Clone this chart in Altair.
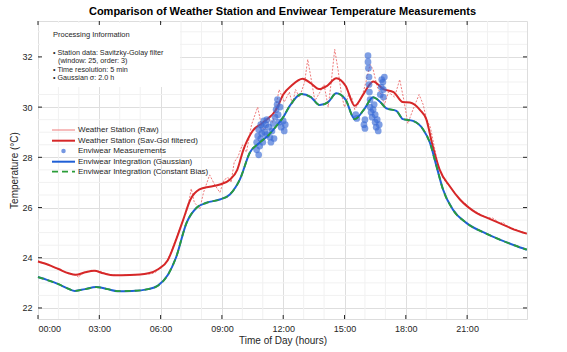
import altair as alt
import pandas as pd

# ---------------- data ----------------
raw_h = [0, 0.25, 0.5, 0.75, 1.0, 1.25, 1.5, 1.75, 1.9, 2.0, 2.1, 2.25, 2.4, 2.5, 2.6, 2.7, 2.8, 2.9, 3.0,
         3.25, 3.5, 3.75, 4.0, 4.5, 5.0, 5.25, 5.5, 5.75, 6.0, 6.25, 6.5, 6.75, 7.0, 7.25, 7.4, 7.5, 7.65,
         7.92, 8.1, 8.4, 8.65, 8.9, 9.1, 9.3, 9.45, 9.6, 9.8, 10.0, 10.2, 10.45, 10.75, 10.95, 11.1, 11.3,
         11.5, 11.8, 12.05, 12.3, 12.45, 12.6, 12.8, 13.05, 13.2, 13.35, 13.55, 13.8, 14.0, 14.2, 14.35,
         14.52, 14.7, 14.85, 15.0, 15.2, 15.35, 15.5, 15.65, 15.85, 16.05, 16.25, 16.4, 16.6, 16.8, 16.95,
         17.15, 17.45, 17.7, 17.9, 18.1, 18.35, 18.65, 18.85, 19.0, 19.2, 19.4, 19.6, 19.8, 20.0, 20.25,
         20.5, 20.75, 21.0, 21.25, 21.5, 21.75, 22.0, 22.25, 22.4, 22.6, 22.75, 22.9, 23.1, 23.35, 23.6, 23.92]
raw_t = [23.88, 23.80, 23.74, 23.62, 23.56, 23.47, 23.36, 23.33, 23.28, 23.22, 23.35, 23.38, 23.47, 23.44,
         23.50, 23.46, 23.50, 23.45, 23.48, 23.38, 23.33, 23.31, 23.29, 23.32, 23.33, 23.36, 23.35, 23.42,
         23.60, 23.78, 24.20, 24.75, 25.30, 25.80, 26.30, 26.75, 26.20, 25.95, 26.60, 27.30, 26.90, 26.60,
         27.10, 27.20, 27.00, 27.80, 28.05, 28.50, 28.20, 29.30, 30.00, 29.20, 29.10, 29.50, 29.40, 30.70,
         30.20, 30.60, 30.10, 30.70, 30.40, 31.00, 31.90, 31.20, 30.25, 30.60, 30.90, 30.00, 31.00, 32.30,
         31.40, 30.50, 30.00, 30.50, 30.40, 29.90, 30.10, 30.40, 31.00, 31.70, 31.50, 30.80, 30.50, 30.10,
         30.60, 30.40, 31.10, 30.30, 29.35, 29.90, 30.50, 30.10, 29.55, 29.20, 28.40, 27.60, 27.20, 26.95,
         26.75, 26.45, 26.25, 26.10, 25.90, 25.80, 25.68, 25.60, 25.58, 25.50, 25.35, 25.42, 25.30, 25.20,
         25.14, 25.06, 24.95]

sg_h = [0, 0.5, 1, 1.5, 1.85, 2.3, 2.75, 3.2, 3.7, 4.5, 5.4, 5.9, 6.35, 6.75, 7.1, 7.45, 7.9, 8.4, 8.9,
        9.4, 9.75, 10.05, 10.5, 11.0, 11.67, 12.0, 12.4, 12.95, 13.35, 13.75, 14.15, 14.6, 15.05, 15.5,
        15.95, 16.4, 16.9, 17.4, 17.85, 18.2, 18.7, 19.0, 19.3, 19.65, 20.15, 20.65, 21.45, 22.1, 22.75,
        23.3, 23.92]
sg_t = [23.85, 23.72, 23.55, 23.38, 23.32, 23.42, 23.48, 23.38, 23.30, 23.31, 23.38, 23.55, 23.90, 24.70,
        25.50, 26.30, 26.72, 26.83, 26.92, 27.12, 27.50, 28.30, 29.05, 29.38, 29.92, 30.50, 30.85, 31.13,
        30.95, 30.72, 30.85, 31.15, 30.85, 30.05, 30.55, 31.02, 30.72, 30.60, 30.20, 30.18, 29.88, 29.52,
        28.50, 27.52, 26.85, 26.32, 25.79, 25.55, 25.32, 25.12, 24.96]

gauss_h = [0, 0.5, 1.0, 1.5, 1.8, 2.3, 2.85, 3.4, 3.9, 4.6, 5.4, 5.87, 6.36, 6.75, 7.27, 7.76, 8.25, 8.9,
           9.39, 9.88, 10.37, 10.86, 11.3, 11.67, 12.0, 12.32, 12.9, 13.35, 13.79, 14.2, 14.6, 15.05, 15.5,
           15.95, 16.4, 16.75, 17.05, 17.54, 17.86, 18.35, 18.84, 19.17, 19.5, 19.82, 20.3, 20.96, 21.94,
           22.6, 23.3, 23.92]
gauss_t = [23.23, 23.10, 22.95, 22.76, 22.68, 22.75, 22.83, 22.75, 22.67, 22.68, 22.75, 22.89, 23.32, 24.00,
           25.39, 25.99, 26.19, 26.32, 26.52, 27.12, 28.19, 28.59, 28.90, 29.25, 29.60, 30.05, 30.52, 30.40,
           30.08, 30.20, 30.55, 30.30, 29.52, 29.90, 30.39, 30.20, 29.95, 29.85, 29.52, 29.45, 29.12, 28.60,
           27.65, 26.72, 25.92, 25.39, 24.96, 24.72, 24.50, 24.32]

bias_h = gauss_h
bias_t = [23.23, 23.10, 22.95, 22.76, 22.68, 22.75, 22.83, 22.75, 22.67, 22.68, 22.75, 22.89, 23.32, 24.00,
          25.39, 25.99, 26.19, 26.32, 26.52, 27.12, 28.19, 28.59, 28.90, 29.25, 29.60, 30.05, 30.52, 30.40,
          30.08, 30.20, 30.55, 30.30, 29.52, 29.90, 30.39, 30.20, 29.95, 29.85, 29.52, 29.45, 29.12, 28.60,
          27.65, 26.72, 25.92, 25.39, 24.96, 24.72, 24.50, 24.32]

meas_h = [10.7, 10.7, 10.75, 10.8, 10.8, 10.85, 10.9, 10.9, 10.95, 11.0, 11.0, 11.05, 11.1, 11.15, 11.2,
          11.2, 11.3, 11.35, 11.4, 11.45, 11.5, 11.55, 11.6, 11.65, 11.7, 11.72, 11.75, 11.8, 11.85, 11.9,
          12.0, 12.05, 12.1,
          15.55, 15.6, 15.95, 16.0, 16.0, 16.15, 16.15, 16.17, 16.2, 16.2, 16.22, 16.25, 16.25, 16.3, 16.35,
          16.4, 16.45, 16.5, 16.5, 16.55, 16.6, 16.65, 16.7, 16.75, 16.8, 16.82, 16.88, 16.9, 16.9, 16.95]
meas_t = [28.3, 28.6, 28.85, 28.1, 29.1, 28.45, 28.75, 29.3, 28.95, 29.2, 28.6, 29.45, 29.0, 29.3, 29.5,
          28.9, 29.2, 28.8, 28.6, 29.05, 29.35, 28.75, 29.6, 29.9, 30.1, 30.3, 29.7, 29.4, 30.0, 29.2,
          29.45, 29.05, 29.3,
          29.7, 29.55, 29.3, 29.5, 29.15, 32.05, 31.8, 31.55, 31.2, 30.9, 30.6, 30.3, 30.0, 29.8, 29.6,
          29.9, 30.1, 29.4, 29.7, 29.2, 29.5, 29.05, 29.3, 30.5, 30.8, 31.1, 31.0, 30.7, 30.4, 31.2]

x_ticks = [0, 3, 6, 9, 12, 15, 18, 21]
y_ticks = [22, 24, 26, 28, 30, 32]
x_minor = [1, 2, 4, 5, 7, 8, 10, 11, 13, 14, 16, 17, 19, 20, 22, 23]
y_minor = [22.5, 23, 23.5, 24.5, 25, 25.5, 26.5, 27, 27.5, 28.5, 29, 29.5, 30.5, 31, 31.5, 32.5, 33]

legend_labels = ["Weather Station (Raw)", "Weather Station (Sav-Gol filtered)", "Enviwear Measurements",
                 "Enviwear Integration (Gaussian)", "Enviwear Integration (Constant Bias)"]
info_title = "Processing Information"
info_lines = ["• Station data: Savitzky-Golay filter", "(window: 25, order: 3)",
              "• Time resolution: 5 min", "• Gaussian σ: 2.0 h"]

# ---------------- styling ----------------
FONT = "Liberation Sans"
W, H = 489, 298
C_RAW = "#ee7b7b"
C_SG = "#d62728"
C_MEAS = "#3a6bd6"
C_GAU = "#1f5fd6"
C_BIAS = "#2a9d38"
AXC = "#262626"

xs = alt.Scale(domain=[0, 23.93], nice=False, zero=False)
ys = alt.Scale(domain=[21.56, 33.43], nice=False, zero=False)

X = alt.X("h:Q", scale=xs, axis=alt.Axis(
    values=x_ticks, labelExpr="(datum.value < 10 ? '0' : '') + datum.value + ':00'",
    grid=True, gridColor="#dedede", ticks=False, domain=False, labelFont=FONT, labelFontSize=9,
    labelColor=AXC, labelPadding=5, title="Time of Day (hours)", titleFont=FONT, titleFontSize=10,
    titleFontWeight="normal", titleColor=AXC, titlePadding=2))
Y = alt.Y("t:Q", scale=ys, axis=alt.Axis(
    values=y_ticks, grid=True, gridColor="#dedede", ticks=False, domain=False, labelFont=FONT,
    labelFontSize=9, labelColor=AXC, labelPadding=6, title="Temperature (°C)", titleFont=FONT,
    titleFontSize=10, titleFontWeight="normal", titleColor=AXC, titlePadding=2))

xm = pd.DataFrame({"h": x_minor})
ym = pd.DataFrame({"t": y_minor})
minor_x = alt.Chart(xm).mark_rule(color="#f1f1f1", strokeWidth=1).encode(x=alt.X("h:Q", scale=xs))
minor_y = alt.Chart(ym).mark_rule(color="#f1f1f1", strokeWidth=1).encode(y=alt.Y("t:Q", scale=ys))

base = alt.Chart(pd.DataFrame({"h": [0.0], "t": [22.0]})).mark_point(opacity=0).encode(x=X, y=Y)

info_box = alt.Chart(pd.DataFrame({"a": [0]})).mark_rect(color="white").encode(
    x=alt.value(2), x2=alt.value(142), y=alt.value(2), y2=alt.value(66))

raw = alt.Chart(pd.DataFrame({"h": raw_h, "t": raw_t})).mark_line(
    color=C_RAW, strokeWidth=1, strokeDash=[2, 1.5]).encode(x=alt.X("h:Q", scale=xs), y=alt.Y("t:Q", scale=ys))
sg = alt.Chart(pd.DataFrame({"h": sg_h, "t": sg_t})).mark_line(
    color=C_SG, strokeWidth=2, interpolate="monotone").encode(x=alt.X("h:Q", scale=xs), y=alt.Y("t:Q", scale=ys))
meas = alt.Chart(pd.DataFrame({"h": meas_h, "t": meas_t})).mark_circle(
    color=C_MEAS, size=45, opacity=0.65).encode(x=alt.X("h:Q", scale=xs), y=alt.Y("t:Q", scale=ys))
gau = alt.Chart(pd.DataFrame({"h": gauss_h, "t": gauss_t})).mark_line(
    color=C_GAU, strokeWidth=2, interpolate="monotone").encode(x=alt.X("h:Q", scale=xs), y=alt.Y("t:Q", scale=ys))
bias = alt.Chart(pd.DataFrame({"h": bias_h, "t": bias_t})).mark_line(
    color=C_BIAS, strokeWidth=1.8, strokeDash=[6, 4], interpolate="monotone").encode(
    x=alt.X("h:Q", scale=xs), y=alt.Y("t:Q", scale=ys))

# ticks (inward) on all four sides
xt = pd.DataFrame({"h": x_ticks})
yt = pd.DataFrame({"t": y_ticks})
tick_b = alt.Chart(xt).mark_rule(color=AXC).encode(x=alt.X("h:Q", scale=xs), y=alt.value(H), y2=alt.value(H - 4))
tick_t = alt.Chart(xt).mark_rule(color=AXC).encode(x=alt.X("h:Q", scale=xs), y=alt.value(0), y2=alt.value(4))
tick_l = alt.Chart(yt).mark_rule(color=AXC).encode(y=alt.Y("t:Q", scale=ys), x=alt.value(0), x2=alt.value(4))
tick_r = alt.Chart(yt).mark_rule(color=AXC).encode(y=alt.Y("t:Q", scale=ys), x=alt.value(W - 4), x2=alt.value(W))

# legend (manual)
LY = [109, 119.7, 130, 140.7, 150.7]
one = pd.DataFrame({"a": [0]})
leg = [
    alt.Chart(one).mark_rule(color=C_RAW, strokeWidth=1).encode(
        x=alt.value(14), x2=alt.value(37), y=alt.value(LY[0])),
    alt.Chart(one).mark_rule(color=C_SG, strokeWidth=2).encode(
        x=alt.value(14), x2=alt.value(37), y=alt.value(LY[1])),
    alt.Chart(one).mark_circle(color=C_MEAS, size=20, opacity=0.7).encode(
        x=alt.value(25.5), y=alt.value(LY[2])),
    alt.Chart(one).mark_rule(color=C_GAU, strokeWidth=2).encode(
        x=alt.value(14), x2=alt.value(37), y=alt.value(LY[3])),
    alt.Chart(one).mark_rule(color=C_BIAS, strokeWidth=1.8, strokeDash=[6, 4]).encode(
        x=alt.value(14), x2=alt.value(37), y=alt.value(LY[4])),
]
for lab, yy in zip(legend_labels, LY):
    leg.append(alt.Chart(one).mark_text(
        text=lab, align="left", baseline="middle", font=FONT, fontSize=8, color=AXC).encode(
        x=alt.value(40), y=alt.value(yy)))

info = [alt.Chart(one).mark_text(
    text=info_title, align="left", baseline="middle", font=FONT, fontSize=7.5, color=AXC).encode(
    x=alt.value(15), y=alt.value(14))]
for line, yy, xx in zip(info_lines, [32.3, 40, 49, 57.3], [15, 20, 15, 15]):
    info.append(alt.Chart(one).mark_text(
        text=line, align="left", baseline="middle", font=FONT, fontSize=7.2, color=AXC).encode(
        x=alt.value(xx), y=alt.value(yy)))

chart = alt.layer(
    base, minor_x, minor_y, info_box, raw, sg, meas, gau, bias,
    tick_b, tick_t, tick_l, tick_r, *leg, *info
).properties(
    width=W, height=H,
    title=alt.TitleParams("Comparison of Weather Station and Enviwear Temperature Measurements",
                          font=FONT, fontSize=11, fontWeight="bold", color="black", anchor="middle", offset=4),
    autosize=alt.AutoSizeParams(type="none"),
    padding={"left": 38, "top": 21, "right": 40, "bottom": 33},
).configure_view(stroke=AXC, strokeWidth=1).configure(background="white")

chart.save("out.html", embed_options={"renderer": "svg", "actions": False})
